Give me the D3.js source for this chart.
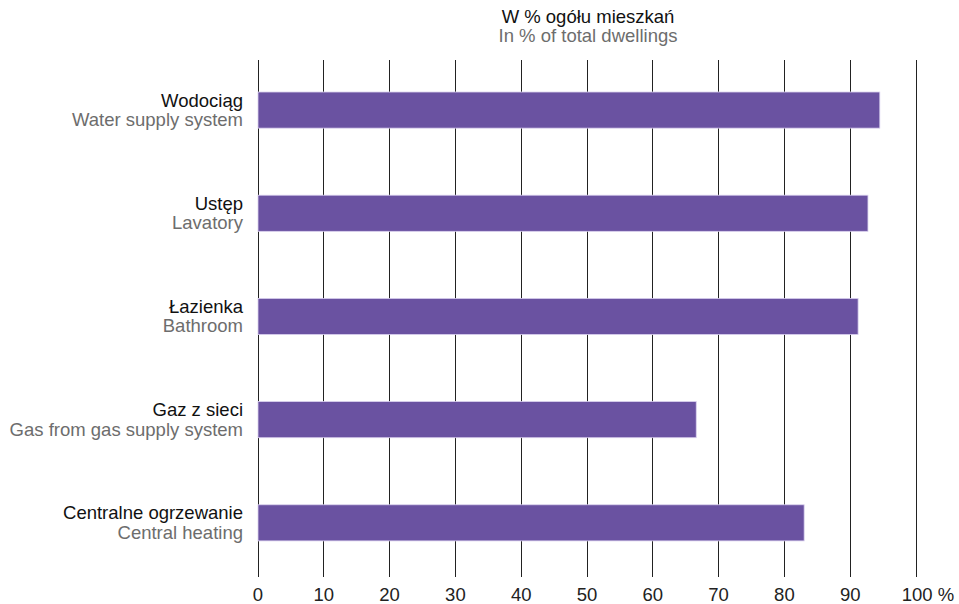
<!DOCTYPE html>
<meta charset="utf-8">
<html>
<head>
  <script src="https://cdn.jsdelivr.net/npm/d3@7"></script>
  <style>
    body { margin: 0; background: #fff; }
    text { font-family: "Liberation Sans", Arial, sans-serif; }
  </style>
</head>
<body>
  <div id="chart"></div>
  <script>
    // data
    var categoriesPl = ["Wodociąg", "Ustęp", "Łazienka", "Gaz z sieci", "Centralne ogrzewanie"];
    var categoriesEn = ["Water supply system", "Lavatory", "Bathroom", "Gas from gas supply system", "Central heating"];
    var values = [94.5, 92.7, 91.2, 66.6, 83.0];
    var ticks = [0, 10, 20, 30, 40, 50, 60, 70, 80, 90, 100];

    const width = 959, height = 604;
    const margin = {top: 60, right: 43, bottom: 27, left: 258};
    const fs = 18.5;

    var svg = d3.select("#chart").append("svg")
        .attr("width", width)
        .attr("height", height);

    var x = d3.scaleLinear().domain([0, 100]).range([margin.left, width - margin.right]);
    var y = d3.scaleBand().domain(d3.range(values.length))
        .range([margin.top, height - margin.bottom])
        .paddingInner(0.65).paddingOuter(0.33).align(0.47);

    // gridlines
    svg.append("g").selectAll("line")
        .data(ticks).enter().append("line")
        .attr("x1", d => x(d)).attr("x2", d => x(d))
        .attr("y1", margin.top).attr("y2", height - margin.bottom)
        .attr("stroke", "#222").attr("stroke-width", 1)
        .attr("shape-rendering", "crispEdges");

    // tick labels
    svg.append("g").selectAll("text")
        .data(ticks).enter().append("text")
        .attr("x", d => x(d)).attr("y", 601)
        .attr("text-anchor", "middle")
        .attr("font-size", fs).attr("fill", "#222")
        .text(d => d == 100 ? "100 %" : d)
        .attr("dx", d => d == 100 ? 12 : 0);

    // bars
    svg.append("g").selectAll("rect")
        .data(values).enter().append("rect")
        .attr("x", x(0))
        .attr("y", (d, i) => y(i))
        .attr("width", d => x(d) - x(0))
        .attr("height", y.bandwidth())
        .attr("fill", "#6a52a1")
        .attr("stroke", "#d9d0ee").attr("stroke-width", 0.8);

    // category labels (two lines: polish / english)
    var lab = svg.append("g").selectAll("g")
        .data(categoriesPl).enter().append("g");
    lab.append("text")
        .attr("x", 243).attr("y", (d, i) => y(i) + y.bandwidth() / 2 - 3.5)
        .attr("text-anchor", "end").attr("font-size", fs).attr("fill", "#111")
        .text(d => d);
    lab.append("text")
        .attr("x", 243).attr("y", (d, i) => y(i) + y.bandwidth() / 2 + 16)
        .attr("text-anchor", "end").attr("font-size", fs).attr("fill", "#6d6d6d")
        .text((d, i) => categoriesEn[i]);

    // title
    svg.append("text").attr("x", 588).attr("y", 22.5)
        .attr("text-anchor", "middle").attr("font-size", fs).attr("fill", "#111")
        .text("W % ogółu mieszkań");
    svg.append("text").attr("x", 588).attr("y", 41.5)
        .attr("text-anchor", "middle").attr("font-size", fs).attr("fill", "#6d6d6d")
        .text("In % of total dwellings");
  </script>
</body>
</html>
